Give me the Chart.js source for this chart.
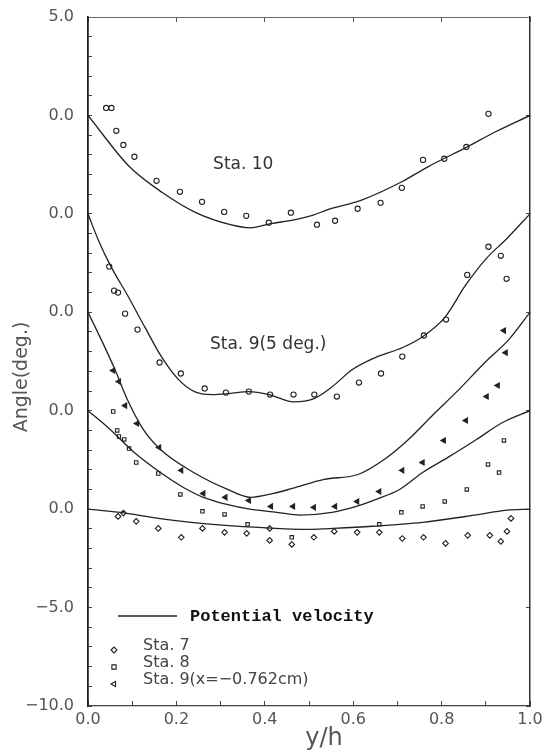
<!DOCTYPE html>
<html>
<head>
<meta charset="utf-8">
<script src="https://cdn.jsdelivr.net/npm/chart.js@4"></script>
<style>
  html, body { margin: 0; padding: 0; background: #fff; }
  .chart-box { width: 547px; height: 752px; }
</style>
</head>
<body>
<div class="chart-box"><canvas class="js-chart"></canvas></div>
<script>
// every station sits 5 deg above the one below it
const offsetSta10 = 20;
const offsetSta9deg = 15;
const offsetSta9x = 10;
const offsetSta8 = 5;
const offsetSta7 = 0;

// potential velocity curves, angle (deg.) relative to each station's zero
const sta10LineX = [0, 0.094, 0.169, 0.244, 0.322, 0.368, 0.413, 0.466, 0.511, 0.541, 0.619, 0.71, 0.769, 0.858, 0.922, 1.0];
const sta10LineY = [0, -2.61, -3.93, -4.94, -5.55, -5.71, -5.5, -5.3, -5.05, -4.8, -4.3, -3.37, -2.61, -1.6, -0.83, 0];

const sta9degLineX = [0, 0.023, 0.052, 0.091, 0.128, 0.166, 0.205, 0.241, 0.28, 0.319, 0.364, 0.41, 0.465, 0.51, 0.553, 0.598, 0.65, 0.712, 0.757, 0.807, 0.855, 0.9, 0.95, 1.0];
const sta9degLineY = [0, -1.31, -2.68, -4.2, -5.73, -7.25, -8.42, -9.03, -9.18, -9.13, -9.03, -9.18, -9.55, -9.4, -8.77, -7.91, -7.3, -6.79, -6.24, -5.27, -3.6, -2.3, -1.2, 0];

const sta9xLineX = [0, 0.03, 0.061, 0.089, 0.125, 0.164, 0.239, 0.316, 0.368, 0.42, 0.462, 0.534, 0.611, 0.67, 0.725, 0.777, 0.839, 0.898, 0.952, 1.0];
const sta9xLineY = [0, -1.39, -2.91, -4.43, -5.95, -6.97, -8.14, -9.0, -9.4, -9.2, -8.95, -8.49, -8.24, -7.48, -6.46, -5.29, -3.93, -2.55, -1.39, 0];

const sta8LineX = [0, 0.05, 0.102, 0.164, 0.216, 0.261, 0.314, 0.366, 0.427, 0.48, 0.552, 0.607, 0.652, 0.705, 0.757, 0.818, 0.879, 0.938, 1.0];
const sta8LineY = [0, -0.95, -2.07, -3.14, -3.9, -4.4, -4.76, -5.0, -5.16, -5.3, -5.16, -4.86, -4.5, -4.0, -3.14, -2.32, -1.46, -0.6, 0];

const sta7LineX = [0, 0.084, 0.159, 0.234, 0.311, 0.386, 0.5, 0.53, 0.643, 0.757, 0.87, 0.948, 1.0];
const sta7LineY = [0, -0.2, -0.47, -0.67, -0.82, -0.93, -1.03, -1.0, -0.87, -0.67, -0.32, -0.05, 0];

// measured angles
const sta10X = [0.041, 0.053, 0.064, 0.08, 0.105, 0.155, 0.208, 0.258, 0.308, 0.358, 0.409, 0.459, 0.518, 0.559, 0.61, 0.662, 0.71, 0.758, 0.806, 0.856, 0.906];
const sta10Y = [0.38, 0.38, -0.78, -1.5, -2.1, -3.32, -3.88, -4.39, -4.9, -5.1, -5.45, -4.94, -5.55, -5.35, -4.74, -4.44, -3.68, -2.26, -2.2, -1.6, 0.08];

const sta9degX = [0.048, 0.059, 0.068, 0.084, 0.112, 0.162, 0.21, 0.264, 0.312, 0.364, 0.412, 0.465, 0.512, 0.563, 0.613, 0.663, 0.711, 0.76, 0.81, 0.858, 0.906, 0.934, 0.947];
const sta9degY = [-2.68, -3.9, -4.0, -5.07, -5.88, -7.55, -8.11, -8.87, -9.08, -9.03, -9.18, -9.18, -9.18, -9.28, -8.57, -8.11, -7.25, -6.18, -5.37, -3.1, -1.67, -2.13, -3.3];

const sta9xX = [0.057, 0.07, 0.084, 0.111, 0.161, 0.211, 0.261, 0.311, 0.364, 0.414, 0.464, 0.511, 0.559, 0.609, 0.659, 0.711, 0.757, 0.805, 0.855, 0.902, 0.927, 0.945, 0.941];
const sta9xY = [-2.96, -3.52, -4.74, -5.65, -6.87, -8.03, -9.2, -9.4, -9.56, -9.86, -9.86, -9.91, -9.86, -9.61, -9.1, -8.03, -7.63, -6.51, -5.5, -4.28, -3.72, -2.05, -0.93];

const sta8X = [0.057, 0.066, 0.07, 0.082, 0.093, 0.109, 0.159, 0.209, 0.259, 0.309, 0.361, 0.461, 0.659, 0.709, 0.757, 0.807, 0.857, 0.905, 0.93, 0.941];
const sta8Y = [-0.04, -1.0, -1.31, -1.46, -1.92, -2.63, -3.19, -4.25, -5.11, -5.27, -5.77, -6.43, -5.77, -5.16, -4.86, -4.61, -4.0, -2.73, -3.14, -1.51];

const sta7X = [0.068, 0.08, 0.109, 0.159, 0.211, 0.259, 0.309, 0.359, 0.411, 0.411, 0.461, 0.511, 0.557, 0.609, 0.659, 0.711, 0.759, 0.809, 0.859, 0.909, 0.934, 0.948, 0.957];
const sta7Y = [-0.37, -0.2, -0.62, -0.98, -1.43, -0.98, -1.18, -1.23, -1.59, -0.98, -1.79, -1.43, -1.13, -1.18, -1.18, -1.49, -1.43, -1.74, -1.33, -1.33, -1.64, -1.13, -0.47];

// axis ticks
const xTickValues = [0, 0.2, 0.4, 0.6, 0.8, 1.0];
const xTickLabels = ['0.0', '0.2', '0.4', '0.6', '0.8', '1.0'];
const yTickValues = [-10, -5, 0, 5, 10, 15, 20, 25];
const yTickLabels = ['\u221210.0', '\u22125.0', '0.0', '0.0', '0.0', '0.0', '0.0', '5.0'];

const legendLine = 'Potential velocity';
const legendLabels = ['Sta. 7', 'Sta. 8', 'Sta. 9(x=\u22120.762cm)'];

const INK = '#222';
const FONT = "'DejaVu Sans', sans-serif";

function toPoints(xs, ys, offset) {
  return xs.map((x, i) => ({ x, y: ys[i] + offset }));
}

function curve(xs, ys, offset) {
  return {
    data: toPoints(xs, ys, offset),
    showLine: true,
    borderColor: INK,
    borderWidth: 1.3,
    pointRadius: 0,
    cubicInterpolationMode: 'monotone'
  };
}

function markers(xs, ys, offset, style) {
  return Object.assign({
    data: toPoints(xs, ys, offset),
    showLine: false,
    pointRadius: 2.6,
    pointBorderWidth: 1.1,
    pointBorderColor: INK,
    pointBackgroundColor: 'rgba(255,255,255,0)'
  }, style);
}

const circleStyle = { pointStyle: 'circle' };
const diamondStyle = { pointStyle: 'rectRot', pointRadius: 2.8 };
const squareStyle = { pointStyle: 'rect', pointRadius: 2.4 };
const triangleStyle = { pointStyle: 'triangle', pointRotation: -90, pointRadius: 3, pointBackgroundColor: INK };

// the tick labels must not push the plot box inwards
function noEdgePadding(scale) {
  scale.paddingTop = 0;
  scale.paddingBottom = 0;
  scale.paddingLeft = 0;
  scale.paddingRight = 0;
}

// text that sits on top of the plot: station names, legend, axis titles
const plotText = {
  id: 'plotText',
  afterDraw(chart) {
    const { ctx, chartArea: area, scales: { x, y } } = chart;
    ctx.save();
    ctx.fillStyle = '#333';
    ctx.textBaseline = 'middle';
    ctx.textAlign = 'left';
    ctx.font = '17px ' + FONT;
    ctx.fillText('Sta. 10', x.getPixelForValue(0.283), y.getPixelForValue(17.49));
    ctx.fillText('Sta. 9(5 deg.)', x.getPixelForValue(0.276), y.getPixelForValue(8.36));

    // legend
    const lx = area.left;
    ctx.strokeStyle = INK;
    ctx.lineWidth = 1.3;
    ctx.beginPath();
    ctx.moveTo(lx + 30, 616);
    ctx.lineTo(lx + 89, 616);
    ctx.stroke();
    ctx.fillStyle = '#111';
    ctx.font = "bold 17px 'Liberation Mono', monospace";
    ctx.fillText(legendLine, lx + 102, 617);

    const styles = [diamondStyle, squareStyle, triangleStyle];
    ctx.font = '16px ' + FONT;
    legendLabels.forEach((label, i) => {
      const s = styles[i];
      const ty = 646 + i * 17;
      ctx.fillStyle = '#444';
      ctx.fillText(label, lx + 55, ty);
      ctx.strokeStyle = INK;
      ctx.lineWidth = 1.1;
      ctx.fillStyle = 'rgba(255,255,255,0)';
      Chart.helpers.drawPoint(ctx, {
        pointStyle: s.pointStyle,
        radius: 3,
        rotation: s.pointRotation || 0,
        borderWidth: 1.1
      }, lx + 26, ty + 4);
    });

    // axis titles
    ctx.fillStyle = '#555';
    ctx.textAlign = 'center';
    ctx.font = '24px ' + FONT;
    ctx.fillText('y/h', 324, 739);
    ctx.translate(22, 377);
    ctx.rotate(-Math.PI / 2);
    ctx.font = '19px ' + FONT;
    ctx.fillText('Angle(deg.)', 0, 0);
    ctx.restore();
  }
};

Chart.defaults.font.family = FONT;

const ctx = document.querySelector('.js-chart').getContext('2d');

const angleChart = new Chart(ctx, {
  type: 'scatter',
  data: {
    datasets: [
      curve(sta10LineX, sta10LineY, offsetSta10),
      curve(sta9degLineX, sta9degLineY, offsetSta9deg),
      curve(sta9xLineX, sta9xLineY, offsetSta9x),
      curve(sta8LineX, sta8LineY, offsetSta8),
      curve(sta7LineX, sta7LineY, offsetSta7),
      markers(sta10X, sta10Y, offsetSta10, circleStyle),
      markers(sta9degX, sta9degY, offsetSta9deg, circleStyle),
      markers(sta9xX, sta9xY, offsetSta9x, triangleStyle),
      markers(sta8X, sta8Y, offsetSta8, squareStyle),
      markers(sta7X, sta7Y, offsetSta7, diamondStyle)
    ]
  },
  options: {
    responsive: true,
    maintainAspectRatio: false,
    animation: false,
    layout: { padding: { top: 17, right: 17, bottom: 0, left: 0 } },
    plugins: {
      legend: { display: false },
      tooltip: { enabled: false }
    },
    scales: {
      x: {
        type: 'linear',
        position: 'bottom',
        min: 0,
        max: 1,
        afterFit: (scale) => { scale.height = 46; noEdgePadding(scale); },
        border: { color: '#444', width: 1.2 },
        grid: { drawOnChartArea: false, tickLength: -5, color: '#444' },
        ticks: {
          stepSize: 0.1,
          autoSkip: false,
          maxRotation: 0,
          padding: 9,
          color: '#555',
          font: { size: 16 },
          callback: (value) => {
            const i = xTickValues.findIndex(v => Math.abs(v - value) < 1e-6);
            return i >= 0 ? xTickLabels[i] : '';
          }
        }
      },
      x2: {
        type: 'linear',
        position: 'top',
        min: 0,
        max: 1,
        afterFit: (scale) => { scale.height = 0; noEdgePadding(scale); },
        border: { color: '#666', width: 1 },
        grid: { drawOnChartArea: false, tickLength: -5, color: '#555' },
        ticks: { stepSize: 0.2, display: false }
      },
      y: {
        type: 'linear',
        position: 'left',
        min: -10,
        max: 25,
        afterFit: (scale) => { scale.width = 88; noEdgePadding(scale); },
        border: { color: '#222', width: 1.8 },
        grid: { drawOnChartArea: false, tickLength: -4, color: '#444' },
        ticks: {
          stepSize: 1,
          autoSkip: false,
          padding: 18,
          color: '#555',
          font: { size: 16 },
          callback: (value) => {
            const i = yTickValues.indexOf(Math.round(value));
            return (i >= 0 && Math.abs(value - yTickValues[i]) < 1e-6) ? yTickLabels[i] : '';
          }
        }
      },
      y2: {
        type: 'linear',
        position: 'right',
        min: -10,
        max: 25,
        afterFit: (scale) => { scale.width = 0; noEdgePadding(scale); },
        border: { color: '#333', width: 1.5 },
        grid: { drawOnChartArea: false, tickLength: -4, color: '#444' },
        ticks: { stepSize: 5, display: false }
      }
    }
  },
  plugins: [plotText]
});
</script>
</body>
</html>
